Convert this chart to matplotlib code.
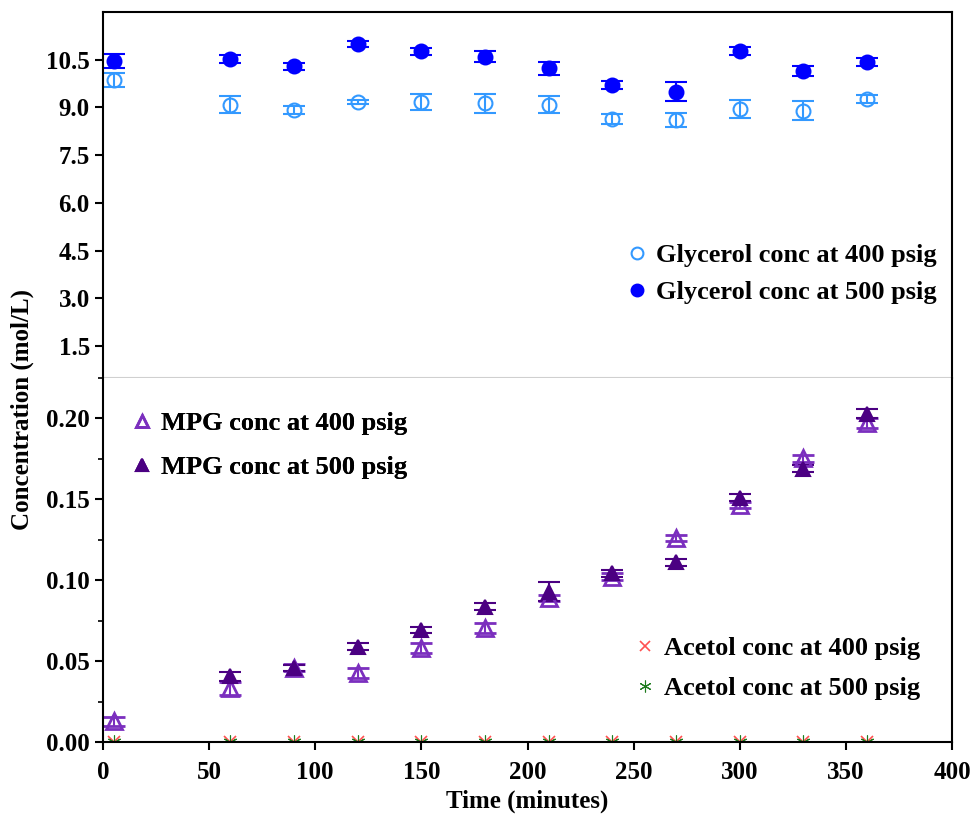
import matplotlib
matplotlib.use("Agg")
import matplotlib.pyplot as plt
import numpy as np
from matplotlib.ticker import MultipleLocator, FormatStrFormatter

plt.rcParams['font.family'] = ['Liberation Serif', 'DejaVu Serif']
plt.rcParams['font.weight'] = 'bold'

time = [5, 60, 90, 120, 150, 180, 210, 240, 270, 300, 330, 360]

gly400 = [9.87, 9.09, 8.92, 9.18, 9.16, 9.13, 9.09, 8.64, 8.60, 8.95, 8.90, 9.26]
gly400_err = [0.22, 0.27, 0.12, 0.06, 0.25, 0.30, 0.27, 0.16, 0.22, 0.29, 0.29, 0.12]
gly500 = [10.47, 10.52, 10.29, 10.99, 10.76, 10.60, 10.23, 9.70, 9.50, 10.78, 10.15, 10.42]
gly500_err = [0.22, 0.13, 0.10, 0.09, 0.12, 0.17, 0.21, 0.13, 0.31, 0.13, 0.16, 0.12]

mpg400 = [0.0127, 0.0333, 0.046, 0.0426, 0.058, 0.0704, 0.0889, 0.1022, 0.126, 0.1465, 0.1753, 0.197]
mpg400_err = [0.003, 0.004, 0.002, 0.003, 0.003, 0.003, 0.002, 0.002, 0.002, 0.002, 0.002, 0.003]
mpg500 = [np.nan, 0.0405, 0.0457, 0.059, 0.0693, 0.0837, 0.093, 0.1043, 0.111, 0.151, 0.169, 0.203]
mpg500_err = [0.0, 0.003, 0.002, 0.002, 0.002, 0.002, 0.006, 0.002, 0.002, 0.002, 0.002, 0.003]

acetol400 = [0.0] * 12
acetol500 = [0.0] * 12

c_g400 = '#3399FF'
c_g500 = '#0000FF'
c_m400 = '#7B2FBE'
c_m500 = '#4B0082'
c_a400 = '#FF5050'
c_a500 = '#1E7B1E'

W, H = 974, 817
fig = plt.figure(figsize=(W / 100, H / 100), dpi=100)
L, R = 103 / W, 952 / W
y_top, y_mid, y_bot = 1 - 12 / H, 1 - 378 / H, 1 - 742 / H
ax1 = fig.add_axes([L, y_mid, R - L, y_top - y_mid])
ax2 = fig.add_axes([L, y_bot, R - L, y_mid - y_bot])

fs = 18
lfs = 19
lw = 1.5

# top: glycerol
ax1.errorbar(time, gly400, yerr=gly400_err, fmt='o', mfc='none', mec=c_g400, ecolor=c_g400,
             ms=10, mew=1.5, capsize=8, elinewidth=1.5, capthick=1.5, label='Glycerol conc at 400 psig')
ax1.errorbar(time, gly500, yerr=gly500_err, fmt='o', mfc=c_g500, mec=c_g500, ecolor=c_g500,
             ms=10, mew=1.5, capsize=8, elinewidth=1.5, capthick=1.5, label='Glycerol conc at 500 psig')
ax1.set_xlim(0, 400)
ax1.set_ylim(0.5, 12)
ax1.set_yticks([1.5, 3.0, 4.5, 6.0, 7.5, 9.0, 10.5])
ax1.yaxis.set_major_formatter(FormatStrFormatter('%.1f'))
ax1.tick_params(axis='x', which='both', bottom=False, labelbottom=False)
ax1.tick_params(axis='y', direction='out', length=6, width=lw, labelsize=fs)
for s in ['top', 'left', 'right']:
    ax1.spines[s].set_linewidth(lw)
ax1.spines['bottom'].set_color('#D0D0D0')
ax1.spines['bottom'].set_linewidth(1.5)

# bottom: MPG and acetol
ax2.errorbar(time, mpg400, yerr=mpg400_err, fmt='^', mfc='none', mec=c_m400, ecolor=c_m400,
             ms=11, mew=2, capsize=8, elinewidth=1.5, capthick=1.5, label='MPG conc at 400 psig')
ax2.errorbar(time, mpg500, yerr=mpg500_err, fmt='^', mfc=c_m500, mec=c_m500, ecolor=c_m500,
             ms=10, mew=1.5, capsize=8, elinewidth=1.5, capthick=1.5, label='MPG conc at 500 psig')
a1, = ax2.plot(time, acetol400, 'x', color=c_a400, ms=9, mew=1.2, ls='none', label='Acetol conc at 400 psig')
a2, = ax2.plot(time, acetol500, '*', color=c_a500, ms=10, mew=0.8, ls='none', label='Acetol conc at 500 psig')
a2.set_marker((6, 2, 0))
ax2.set_xlim(0, 400)
ax2.set_ylim(0, 0.225)
ax2.set_yticks([0.0, 0.05, 0.10, 0.15, 0.20])
ax2.yaxis.set_minor_locator(MultipleLocator(0.025))
ax2.yaxis.set_major_formatter(FormatStrFormatter('%.2f'))
ax2.xaxis.set_major_locator(MultipleLocator(50))
ax2.tick_params(axis='both', which='major', direction='out', length=6, width=lw, labelsize=fs)
ax2.tick_params(axis='x', which='major', pad=8)
ax2.tick_params(axis='y', which='minor', direction='out', length=3.5, width=1.2)
ax2.spines['top'].set_visible(False)
for s in ['bottom', 'left', 'right']:
    ax2.spines[s].set_linewidth(lw)
ax2.set_xlabel('Time (minutes)', fontsize=fs, fontweight='bold', labelpad=4)

fig.text(22 / W, 1 - 410 / H, 'Concentration (mol/L)', rotation=90, ha='center', va='center',
         fontsize=fs, fontweight='bold')

leg_kw = dict(frameon=False, fontsize=lfs, handletextpad=0.2, borderpad=0, borderaxespad=0,
              handlelength=1.1, markerscale=0.85)
h1, l1 = ax1.get_legend_handles_labels()
h1 = [h[0] for h in h1]
lg1 = ax1.legend(h1, l1, loc='upper left', bbox_to_anchor=(622 / W, 1 - 244 / H),
                 bbox_transform=fig.transFigure, labelspacing=0.5, **leg_kw)

h2, l2 = ax2.get_legend_handles_labels()
hm = [h[0] for h in h2[2:]]
lg2 = ax2.legend(hm, l2[2:], loc='upper left', bbox_to_anchor=(127 / W, 1 - 412 / H),
                 bbox_transform=fig.transFigure, labelspacing=0.75, **leg_kw)
ax2.add_artist(lg2)
lg3 = ax2.legend([a1, a2], l2[:2], loc='upper left', bbox_to_anchor=(630 / W, 1 - 637 / H),
                 bbox_transform=fig.transFigure, labelspacing=0.62, **leg_kw)
ax2.add_artist(lg2)

fig.savefig('out.png', dpi=100)
